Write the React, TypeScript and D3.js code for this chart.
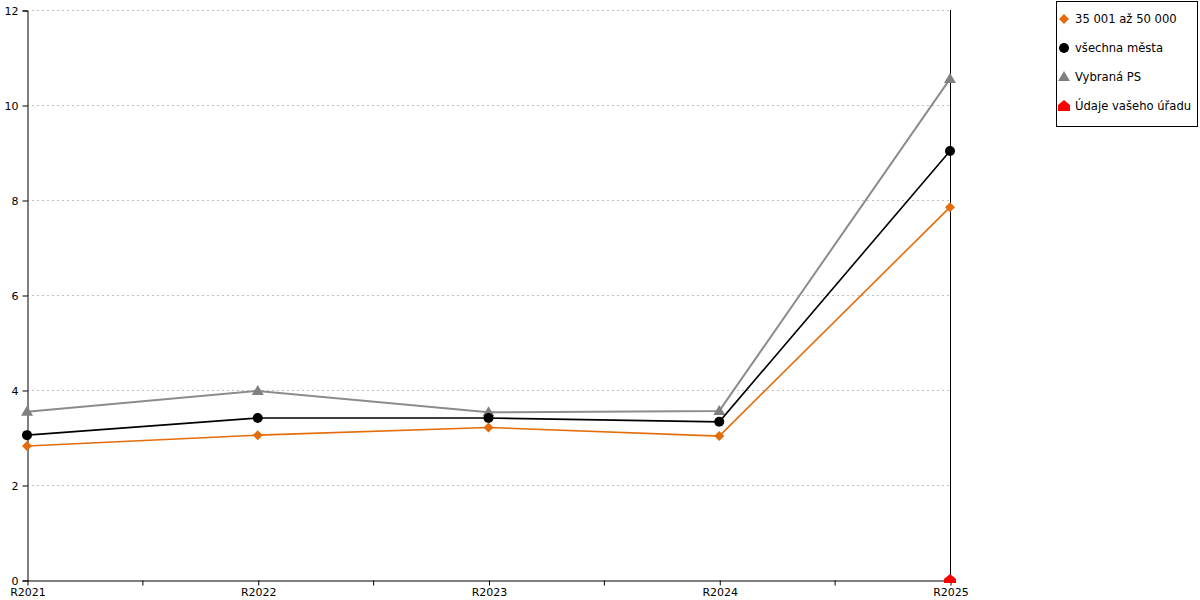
import * as d3 from "d3";
import { useEffect, useRef } from "react";

const categories = ["R2021", "R2022", "R2023", "R2024", "R2025"];
const yTicks = [0, 2, 4, 6, 8, 10, 12];

const orangeValues = [2.82, 3.05, 3.21, 3.03, 7.85];
const blackValues = [3.05, 3.41, 3.41, 3.33, 9.03];
const grayValues = [3.54, 3.98, 3.53, 3.56, 10.55];
const redValues: (number | null)[] = [null, null, null, null, 0];

const seriesNames = ["35 001 až 50 000", "všechna města", "Vybraná PS", "Údaje vašeho úřadu"];

const W = 1200;
const H = 600;
const font = "'DejaVu Sans', Verdana, sans-serif";

function marker(g: d3.Selection<SVGGElement, unknown, null, undefined>, kind: string, x: number, y: number) {
  if (kind === "diamond") {
    g.append("path").attr("d", `M${x},${y - 5}L${x + 5},${y}L${x},${y + 5}L${x - 5},${y}Z`).attr("fill", "#e46c0a");
  } else if (kind === "circle") {
    g.append("circle").attr("cx", x).attr("cy", y).attr("r", 5).attr("fill", "#000");
  } else if (kind === "triangle") {
    g.append("path").attr("d", `M${x},${y - 6}L${x + 6},${y + 4}L${x - 6},${y + 4}Z`).attr("fill", "#808080");
  } else {
    g.append("path").attr("d", `M${x},${y - 6}L${x + 6},${y - 1}L${x + 6},${y + 5}L${x - 6},${y + 5}L${x - 6},${y - 1}Z`).attr("fill", "#ff0000");
  }
}

export default function App() {
  const ref = useRef<SVGSVGElement>(null);

  useEffect(() => {
    if (!ref.current) return;
    const svg = d3.select(ref.current);
    svg.selectAll("*").remove();

    const x = d3.scalePoint<string>().domain(categories).range([27, 950]);
    const y = d3.scaleLinear().domain([0, 12]).range([580, 10]);
    const root = svg.append("g");

    svg.append("defs").append("clipPath").attr("id", "plotClip")
      .append("rect").attr("x", 0).attr("y", 0).attr("width", 1000).attr("height", 583);

    // grid
    root.selectAll(".grid")
      .data(yTicks.filter(t => t > 0))
      .enter()
      .append("line")
      .attr("x1", 27).attr("x2", 950)
      .attr("y1", d => y(d) + 0.5).attr("y2", d => y(d) + 0.5)
      .attr("stroke", "#c0c0c0")
      .attr("stroke-dasharray", "2,3");

    // y axis
    const yAxis = root.append("g")
      .attr("transform", "translate(27.5,0.5)")
      .call(d3.axisLeft(y).tickValues(yTicks).tickSize(5).tickPadding(4).tickFormat(d3.format("d")));
    yAxis.select(".domain").attr("stroke", "#000");
    yAxis.selectAll("text").attr("font-family", font).attr("font-size", 11).attr("fill", "#000");

    // x axis
    const step = x.step();
    const xAxis = root.append("g")
      .attr("transform", "translate(0.5,580.5)")
      .call(d3.axisBottom(x).tickSize(5).tickPadding(3).tickSizeOuter(0));
    xAxis.select(".domain").attr("stroke", "#000");
    xAxis.selectAll("text").attr("font-family", font).attr("font-size", 11).attr("fill", "#000");
    xAxis.selectAll(".minor")
      .data(categories.slice(1))
      .enter()
      .append("line")
      .attr("x1", d => (x(d) as number) - step / 2).attr("x2", d => (x(d) as number) - step / 2)
      .attr("y1", 0).attr("y2", 5)
      .attr("stroke", "#000");

    // right vertical line
    root.append("line")
      .attr("x1", 950.5).attr("x2", 950.5).attr("y1", 10).attr("y2", 580)
      .attr("stroke", "#000");

    const series = [
      { values: grayValues, color: "#8c8c8c", kind: "triangle", width: 2 },
      { values: blackValues, color: "#000", kind: "circle", width: 1.6 },
      { values: orangeValues, color: "#e46c0a", kind: "diamond", width: 1.6 },
      { values: redValues, color: "#ff0000", kind: "house", width: 1.6 },
    ];

    const line = d3.line<number | null>()
      .defined(d => d !== null)
      .x((_, i) => x(categories[i]) as number)
      .y(d => y(d as number));

    const plot = root.append("g").attr("clip-path", "url(#plotClip)");
    series.forEach(s => {
      plot.append("path")
        .datum(s.values)
        .attr("fill", "none")
        .attr("stroke", s.color)
        .attr("stroke-width", s.width)
        .attr("d", line);
      const mg = plot.append("g");
      s.values.forEach((v, i) => {
        if (v === null) return;
        marker(mg, s.kind, x(categories[i]) as number, y(v));
      });
    });

    // legend
    const lg = svg.append("g");
    lg.append("rect")
      .attr("x", 1056.5).attr("y", 1.5).attr("width", 141).attr("height", 125)
      .attr("fill", "#fff").attr("stroke", "#000");
    const kinds = ["diamond", "circle", "triangle", "house"];
    seriesNames.forEach((name, i) => {
      const cy = 19 + i * 29;
      marker(lg, kinds[i], 1064, cy);
      lg.append("text")
        .attr("x", 1075).attr("y", cy + 4)
        .attr("font-family", font).attr("font-size", 11.6)
        .attr("fill", "#000")
        .text(name);
    });
  }, []);

  return (
    <svg ref={ref} width={W} height={H} style={{ position: "absolute", left: 0, top: 0, background: "#fff" }} />
  );
}
